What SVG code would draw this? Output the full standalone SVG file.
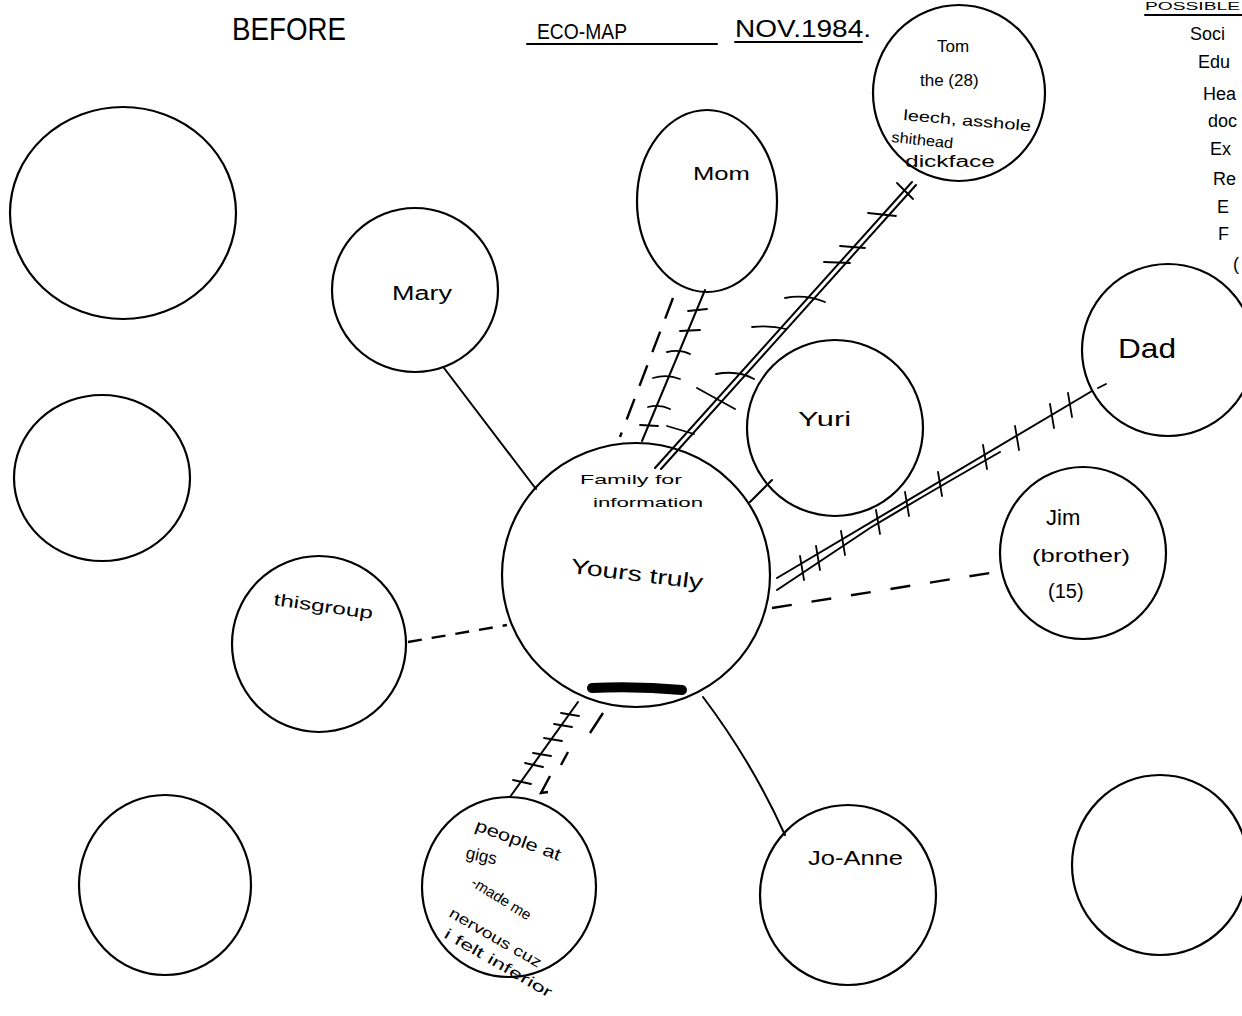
<svg xmlns="http://www.w3.org/2000/svg" width="1242" height="1016" viewBox="0 0 1242 1016">
<style>
.c{fill:none;stroke:#000;stroke-width:2.2}
.l{fill:none;stroke:#000;stroke-width:2;stroke-linecap:round}
.t{stroke:#000;stroke-width:1.8;fill:none;stroke-linecap:round}
.d{fill:none;stroke:#000;stroke-width:2.4}
text{font-family:"Liberation Sans","DejaVu Sans",sans-serif;fill:#000}
</style>
<rect width="1242" height="1016" fill="#fff"/>
<g id="title">
<text x="232" y="40" font-size="32" textLength="114" lengthAdjust="spacingAndGlyphs">BEFORE</text>
<text x="537" y="39" font-size="22" textLength="90" lengthAdjust="spacingAndGlyphs">ECO-MAP</text>
<line x1="527" y1="44" x2="717" y2="44" class="l"/>
<text x="735" y="37" font-size="24" textLength="136" lengthAdjust="spacingAndGlyphs">NOV.1984.</text>
<line x1="735" y1="42" x2="862" y2="42" class="l"/>
</g>
<g id="legend" font-size="18">
<text x="1145" y="10" font-size="10" textLength="95" lengthAdjust="spacingAndGlyphs">POSSIBLE</text>
<line x1="1145" y1="15" x2="1242" y2="15" class="l"/>
<text x="1190" y="40">Soci</text>
<text x="1198" y="68">Edu</text>
<text x="1203" y="100">Hea</text>
<text x="1208" y="127">doc</text>
<text x="1210" y="155">Ex</text>
<text x="1213" y="185">Re</text>
<text x="1217" y="213">E</text>
<text x="1218" y="240">F</text>
<text x="1233" y="270">(</text>
</g>
<g id="connectors">
<!-- Mary -->
<line x1="444" y1="368" x2="536" y2="489" class="l" stroke-width="4"/>
<!-- Mom solid with ticks -->
<line x1="705" y1="290" x2="642" y2="441" class="l" stroke-width="2.6"/>
<path class="t" d="M688,311 L707,309 M680,331 L700,330 M667,352 Q680,349 690,354 M653,378 Q667,374 680,379 M648,407 Q660,404 670,409 M640,425 L658,426"/>
<line x1="673" y1="298" x2="620" y2="437" class="d" stroke-dasharray="22 14"/>
<!-- Tom double line -->
<line x1="912" y1="182" x2="655" y2="468" class="l" stroke-width="1.6"/>
<line x1="916" y1="185" x2="661" y2="469" class="l" stroke-width="1.6"/>
<path class="t" d="M897,183 L913,199 M868,213 L896,216 M840,246 L865,248 M824,262 L850,263 M785,298 Q805,294 825,302 M752,327 Q770,325 786,329 M716,374 Q738,370 754,379 M697,388 L735,409 M667,426 L694,434"/>
<!-- Yuri -->
<line x1="772" y1="480" x2="750" y2="502" class="l" stroke-width="5"/>
<!-- Dad double line with ticks -->
<line x1="777" y1="578" x2="1092" y2="391" class="l" stroke-width="1.8"/>
<path class="l" stroke-width="1.8" d="M777,590 L870,528 Q930,492 1000,452"/>
<path class="t" d="M800,556 L804,580 M816,546 L820,570 M841,531 L845,555 M876,510 L880,534 M905,492 L909,516 M938,472 L942,496 M983,445 L987,469 M1015,426 L1019,450 M1050,404 L1054,428 M1068,393 L1072,417 M1098,388 L1106,384"/>
<!-- Jim dashed -->
<line x1="772" y1="608" x2="996" y2="572" class="d" stroke-dasharray="20 20"/>
<!-- thisgroup dashed -->
<line x1="408" y1="642" x2="507" y2="625" class="d" stroke-dasharray="14 10"/>
<!-- gigs solid with ticks -->
<line x1="510" y1="797" x2="578" y2="702" class="l" stroke-width="2.2"/>
<path class="t" d="M561,713 L579,716 M554,724 L572,727 M544,738 L562,741 M533,753 L551,756 M525,763 L543,767 M513,780 L531,784"/>
<path class="d" d="M603,713 L590,733 M568,752 L561,765 M550,776 L541,793 L548,792"/>
<!-- Jo-Anne -->
<path class="l" stroke-width="2.4" d="M703,697 Q752,762 785,835"/>
</g>
<g id="node-empty-1"><ellipse cx="123" cy="213" rx="113" ry="106" class="c"/></g>
<g id="node-empty-2"><ellipse cx="102" cy="478" rx="88" ry="83" class="c"/></g>
<g id="node-empty-3"><ellipse cx="165" cy="885" rx="86" ry="90" class="c"/></g>
<g id="node-empty-4"><ellipse cx="1160" cy="865" rx="88" ry="90" class="c"/></g>
<g id="node-mary"><ellipse cx="415" cy="290" rx="83" ry="82" class="c"/>
<text x="392" y="300" font-size="20" textLength="60" lengthAdjust="spacingAndGlyphs">Mary</text></g>
<g id="node-mom"><ellipse cx="707" cy="201" rx="70" ry="91" class="c"/>
<text x="693" y="180" font-size="19" textLength="57" lengthAdjust="spacingAndGlyphs">Mom</text></g>
<g id="node-tom"><ellipse cx="959" cy="93" rx="86" ry="88" class="c"/>
<text x="937" y="52" font-size="17">Tom</text>
<text x="920" y="86" font-size="17">the  (28)</text>
<text x="903" y="120" font-size="15" transform="rotate(5 903 120)" textLength="128" lengthAdjust="spacingAndGlyphs">leech, asshole</text>
<text x="891" y="142" font-size="15" transform="rotate(6 891 142)" textLength="62" lengthAdjust="spacingAndGlyphs">shithead</text>
<text x="905" y="167" font-size="16" textLength="90" lengthAdjust="spacingAndGlyphs">dickface</text></g>
<g id="node-yuri"><ellipse cx="835" cy="428" rx="88" ry="88" class="c"/>
<text x="798" y="426" font-size="20" textLength="53" lengthAdjust="spacingAndGlyphs">Yuri</text></g>
<g id="node-dad"><ellipse cx="1168" cy="350" rx="86" ry="86" class="c"/>
<text x="1118" y="358" font-size="28" textLength="58" lengthAdjust="spacingAndGlyphs">Dad</text></g>
<g id="node-jim"><ellipse cx="1083" cy="553" rx="83" ry="86" class="c"/>
<text x="1046" y="525" font-size="22">Jim</text>
<text x="1032" y="562" font-size="18" textLength="98" lengthAdjust="spacingAndGlyphs">(brother)</text>
<text x="1048" y="598" font-size="20">(15)</text></g>
<g id="node-center"><ellipse cx="636" cy="575" rx="134" ry="132" class="c"/>
<text x="580" y="484" font-size="13" textLength="102" lengthAdjust="spacingAndGlyphs">Family for</text>
<text x="593" y="507" font-size="13" textLength="110" lengthAdjust="spacingAndGlyphs">information</text>
<text x="570" y="573" font-size="21" transform="rotate(7 570 573)" textLength="133" lengthAdjust="spacingAndGlyphs">Yours truly</text>
<path d="M592,688 Q637,686 682,690" stroke="#000" stroke-width="10" stroke-linecap="round" fill="none"/></g>
<g id="node-thisgroup"><ellipse cx="319" cy="644" rx="87" ry="88" class="c"/>
<text x="273" y="605" font-size="17" transform="rotate(8 273 605)" textLength="100" lengthAdjust="spacingAndGlyphs">thisgroup</text></g>
<g id="node-gigs"><ellipse cx="509" cy="887" rx="87" ry="90" class="c"/>
<text x="474" y="830" font-size="17" transform="rotate(20 474 830)" textLength="90" lengthAdjust="spacingAndGlyphs">people at</text>
<text x="465" y="858" font-size="17" transform="rotate(12 465 858)">gigs</text>
<text x="470" y="885" font-size="15" transform="rotate(32 470 885)">-made me</text>
<text x="448" y="916" font-size="15" transform="rotate(30 448 916)" textLength="104" lengthAdjust="spacingAndGlyphs">nervous cuz</text>
<text x="443" y="937" font-size="15" transform="rotate(30 443 937)" textLength="122" lengthAdjust="spacingAndGlyphs">i felt inferior</text></g>
<g id="node-joanne"><ellipse cx="848" cy="895" rx="88" ry="90" class="c"/>
<text x="808" y="865" font-size="20" textLength="95" lengthAdjust="spacingAndGlyphs">Jo-Anne</text></g>
</svg>
